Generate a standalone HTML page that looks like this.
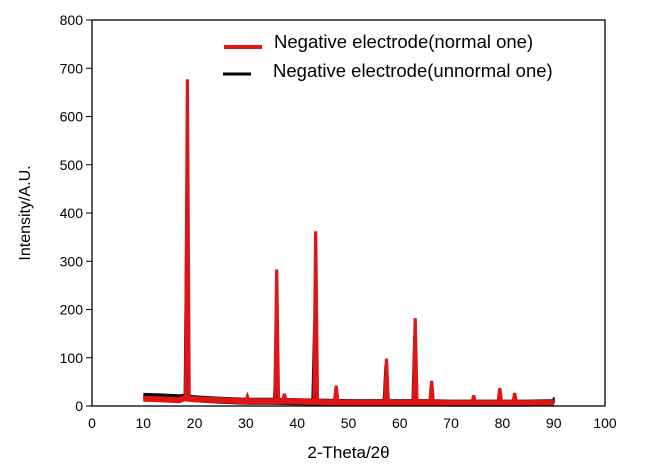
<!DOCTYPE html>
<html><head><meta charset="utf-8"><style>
body{margin:0;background:#fff}
svg{display:block;font-family:"Liberation Sans",Arial,sans-serif}
</style></head><body>
<svg id="chart" width="657" height="472">
</svg>
<script>
const xTicks=[0,10,20,30,40,50,60,70,80,90,100];
const yTicks=[0,100,200,300,400,500,600,700,800];
const bgX=[10,13,17,18,20,25,30,35,40,45,50,55,60,65,70,75,80,85,90];
const bgRed=[15,14,12,16,14,12,10,10,10,8,7,7,7,7,6,6,6,6,7];
const bgBlack=[20,19,17,18,15,12,10,10,9,8,7,7,7,7,6,6,6,6,7];
const redPeakPos=[18.6,30.3,36.0,37.5,43.6,47.6,57.4,63.0,66.2,74.4,79.5,82.4];
const redPeakH=[677,20,283,25,362,42,98,182,52,22,37,27];
const blackPeakPos=[18.4,35.8,43.3,57.2,62.8,90.0];
const blackPeakH=[437,110,170,85,145,18];
const L=92,R=605,T=20,B=406;
const sx=v=>L+(v-0)/100*(R-L);
const sy=v=>B-v/800*(B-T);
const svg=document.getElementById('chart');
const NS='http://www.w3.org/2000/svg';
function mk(t,a){const e=document.createElementNS(NS,t);for(const k in a)e.setAttribute(k,a[k]);svg.appendChild(e);return e;}
function bgAt(xs,ys,x){for(let i=0;i<xs.length-1;i++){if(x>=xs[i]&&x<=xs[i+1]){const f=(x-xs[i])/(xs[i+1]-xs[i]);return ys[i]+f*(ys[i+1]-ys[i]);}}return ys[ys.length-1];}
function path(bg,pp,ph){
  let pts=bgX.map((x,i)=>[x,bg[i]]);
  pp.forEach((p,i)=>{const w=0.35;pts.push([Math.max(10,p-w),bgAt(bgX,bg,p-w)]);pts.push([p,ph[i]]);pts.push([Math.min(90,p+w),bgAt(bgX,bg,p+w)]);});
  pts.sort((a,b)=>a[0]-b[0]);
  return 'M'+pts.map(q=>sx(q[0]).toFixed(1)+','+sy(q[1]).toFixed(1)).join('L');
}
function basePath(bg){return 'M'+bgX.map((x,i)=>sx(x).toFixed(1)+','+sy(bg[i]).toFixed(1)).join('L');}
const bb=mk('path',{d:basePath(bgBlack),fill:'none',stroke:'#111','stroke-width':7});


const bl=mk('path',{d:path(bgBlack,blackPeakPos,blackPeakH),fill:'none',stroke:'#000','stroke-width':2});


const rb=mk('path',{d:basePath(bgRed),fill:'none',stroke:'#e01515','stroke-width':6});


const rd=mk('path',{d:path(bgRed,redPeakPos,redPeakH),fill:'none',stroke:'#e01515','stroke-width':3.2});


const box=mk('rect',{x:L,y:T,width:R-L,height:B-T,fill:'none',stroke:'#000','stroke-width':1.3});


yTicks.forEach(v=>{
  const tk=mk('line',{x1:L-6,x2:L,y1:sy(v),y2:sy(v),stroke:'#000'});
  
  
  const t=mk('text',{x:L-9,y:sy(v)+5,'text-anchor':'end','font-size':14});
  t.textContent=v;
  
  
});
xTicks.forEach(v=>{
  const t=mk('text',{x:sx(v),y:B+22,'text-anchor':'middle','font-size':14});
  t.textContent=v;
  
  
});
const xt=mk('text',{x:sx(50),y:B+52,'text-anchor':'middle','font-size':17});
xt.textContent='2-Theta/2θ';


const yt=mk('text',{x:0,y:0,'text-anchor':'middle','font-size':16,transform:'translate(30,213) rotate(-90)'});
yt.textContent='Intensity/A.U.';


const l1=mk('line',{x1:224,x2:262,y1:47,y2:47,stroke:'#e01515','stroke-width':4});


const t1=mk('text',{x:274,y:48,'font-size':18.5});
t1.textContent='Negative electrode(normal one)';


const l2=mk('line',{x1:223,x2:251,y1:74,y2:74,stroke:'#000','stroke-width':3});


const t2=mk('text',{x:273,y:77,'font-size':18.5});
t2.textContent='Negative electrode(unnormal one)';


</script>
</body></html>
